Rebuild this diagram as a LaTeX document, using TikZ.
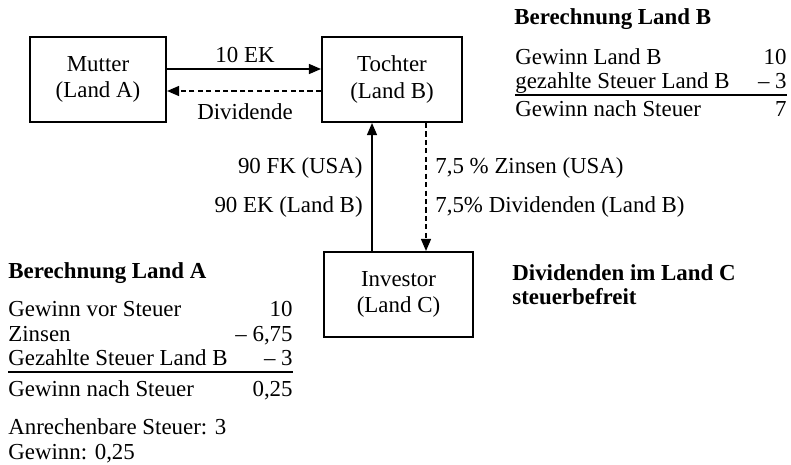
\documentclass[tikz,border=0pt]{standalone}
\usepackage{fontspec}
\setmainfont{Liberation Serif}
\usetikzlibrary{arrows.meta}
\begin{document}
\begin{tikzpicture}[x=0.533pt,y=-0.533pt,
		font=\fontsize{12.2}{13.9}\selectfont,
		kasten/.style={draw,line width=1.1pt,minimum height=45.3pt,align=center,inner sep=0pt},
		pfeil/.style={-{Triangle[length=6.4pt,width=5.3pt]},line width=0.8pt},
		strich/.style={dash pattern=on 2.7pt off 1.8pt},
		zeile/.style={anchor=base west,inner sep=0pt},
		wert/.style={anchor=base east,inner sep=0pt}]
		\useasboundingbox (0,0) rectangle (791,465);

		% Gesellschaften
		\node[kasten,minimum width=72.5pt] (mutter) at (98,79.5) {Mutter\\(Land A)};
		\node[kasten,minimum width=74.6pt] (tochter) at (392,79.5) {Tochter\\(Land B)};
		\node[kasten,minimum width=79.4pt] (investor) at (398.5,294.5) {Investor\\(Land C)};

		% Zahlungsstroeme
		\draw[pfeil] (mutter.east |- 0,69) -- (tochter.west |- 0,69);
		\draw[pfeil,strich] (tochter.west |- 0,91) -- (mutter.east |- 0,91);
		\draw[pfeil] (investor.north -| 372,0) -- (tochter.south -| 372,0);
		\draw[pfeil,strich] (tochter.south -| 426,0) -- (investor.north -| 426,0);

		\node[inner sep=0pt,anchor=base] (ek) at (245,63) {10 EK};
		\node[inner sep=0pt,anchor=base] (div) at (245,120) {Dividende};
		\node[wert] (fk) at (363,173) {90 FK (USA)};
		\node[wert] (ekb) at (363,212) {90 EK (Land B)};
		\node[zeile] (zins) at (435,173) {7,5 \% Zinsen (USA)};
		\node[zeile] (divb) at (435,212) {7,5\% Dividenden (Land B)};

		% Berechnung Land B
		\node[zeile] (titelb) at (514,25) {\bfseries Berechnung Land B};
		\node[zeile] (b1) at (515,65) {Gewinn Land B};
		\node[wert] (b1w) at (787,65) {10};
		\node[zeile] (b2) at (515,89) {gezahlte Steuer Land B};
		\node[wert] (b2w) at (787,89) {– 3};
		\node[zeile] (b3) at (515,117) {Gewinn nach Steuer};
		\node[wert] (b3w) at (787,117) {7};
		\draw[line width=0.7pt] (515,95) -- (787,95);

		% Land C
		\node[zeile] (titelc) at (512,280) {\bfseries Dividenden im Land C};
		\node[zeile] (frei) at (512,304) {\bfseries steuerbefreit};

		% Berechnung Land A
		\node[zeile] (titela) at (8,278) {\bfseries Berechnung Land A};
		\node[zeile] (a1) at (8,316.7) {Gewinn vor Steuer};
		\node[wert] (a1w) at (293,316.7) {10};
		\node[zeile] (a2) at (8,341.7) {Zinsen};
		\node[wert] (a2w) at (293,341.7) {– 6,75};
		\node[zeile] (a3) at (8,365) {Gezahlte Steuer Land B};
		\node[wert] (a3w) at (293,365) {– 3};
		\node[zeile] (a4) at (8,396) {Gewinn nach Steuer};
		\node[wert] (a4w) at (293,396) {0,25};
		\draw[line width=0.7pt] (8,372) -- (293,372);

		\node[zeile] (anr) at (8,434) {Anrechenbare Steuer: 3};
		\node[zeile] (gew) at (8,459) {Gewinn: 0,25};
	\end{tikzpicture}
\end{document}
